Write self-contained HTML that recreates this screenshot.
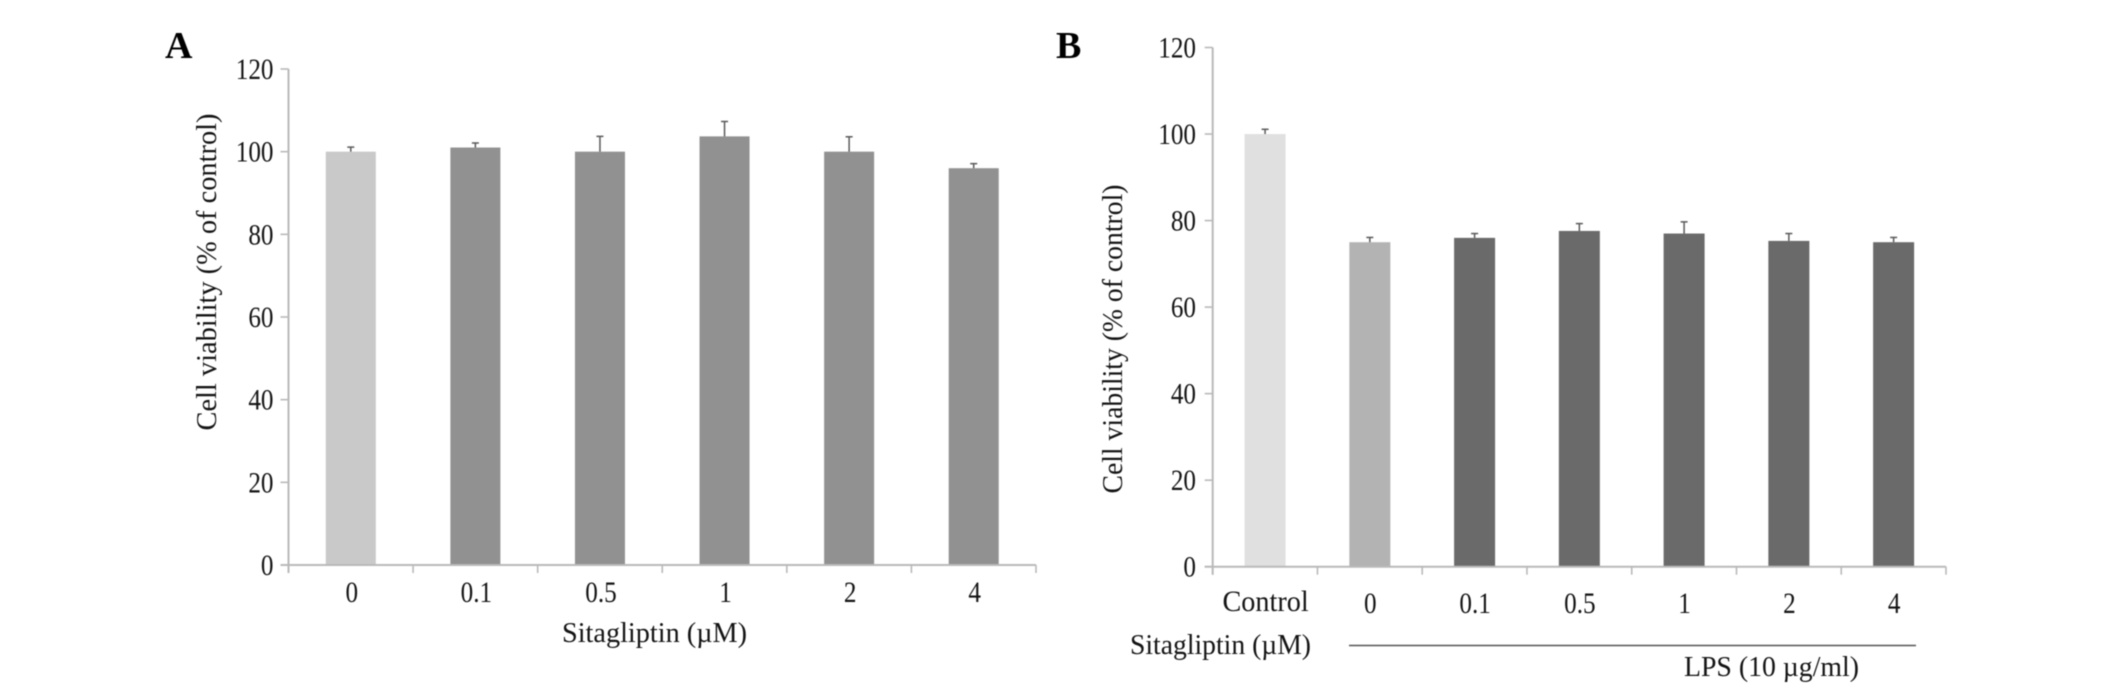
<!DOCTYPE html>
<html lang="en">
<head>
<meta charset="utf-8">
<title>Cell viability charts</title>
<style>
  html, body { margin: 0; padding: 0; background: #fff; }
  body { width: 2126px; height: 696px; overflow: hidden; }
  svg { display: block; filter: blur(0.45px); }
  text { font-family: "Liberation Serif", serif; fill: #141414; }
</style>
</head>
<body>
<svg id="figure" width="2126" height="696" viewBox="0 0 2126 696" xmlns="http://www.w3.org/2000/svg">
  <rect width="2126" height="696" fill="#ffffff"/>
  <g id="panel-a"></g>
  <g id="panel-b"></g>

  <text transform="translate(165,58)" font-size="38" font-weight="bold" style="fill:#000">A</text>
  <text transform="translate(1056,58)" font-size="38" font-weight="bold" style="fill:#000">B</text>

  <text transform="translate(216,272) rotate(-90)" text-anchor="middle" font-size="28" textLength="317" lengthAdjust="spacingAndGlyphs">Cell viability (% of control)</text>
  <text transform="translate(562,642)" font-size="29" textLength="185" lengthAdjust="spacingAndGlyphs">Sitagliptin (µM)</text>

  <text transform="translate(1122,339) rotate(-90)" text-anchor="middle" font-size="28" textLength="309" lengthAdjust="spacingAndGlyphs">Cell viability (% of control)</text>
  <text transform="translate(1130,654)" font-size="29" textLength="181" lengthAdjust="spacingAndGlyphs">Sitagliptin (µM)</text>
  <line x1="1349" y1="645.5" x2="1916" y2="645.5" stroke="#555555" stroke-width="1.6"/>
  <text transform="translate(1684,676)" font-size="29" textLength="175" lengthAdjust="spacingAndGlyphs">LPS (10 µg/ml)</text>
</svg>

<script>
const yTicks = [0, 20, 40, 60, 80, 100, 120];

const categoriesA = ['0', '0.1', '0.5', '1', '2', '4'];
const valuesA = [100, 101, 100, 103.7, 100, 96];
const errorTopsA = [101.1, 102.1, 103.7, 107.3, 103.6, 97.1];
const coloursA = ['#c9c9c9', '#919191', '#919191', '#919191', '#919191', '#919191'];

const categoriesB = ['Control', '0', '0.1', '0.5', '1', '2', '4'];
const valuesB = [100, 75, 76, 77.6, 77, 75.3, 75];
const errorTopsB = [101.1, 76.1, 77, 79.3, 79.7, 77, 76.1];
const coloursB = ['#e0e0e0', '#b3b3b3', '#6a6a6a', '#6a6a6a', '#6a6a6a', '#6a6a6a', '#6a6a6a'];

const SVG_NS = 'http://www.w3.org/2000/svg';
const AXIS_COLOUR = '#b9b9b9';
const ERROR_COLOUR = '#5a5a5a';

function makeLine(parent, x1, y1, x2, y2, colour, width) {
  const line = document.createElementNS(SVG_NS, 'line');
  line.setAttribute('x1', x1);
  line.setAttribute('y1', y1);
  line.setAttribute('x2', x2);
  line.setAttribute('y2', y2);
  line.setAttribute('stroke', colour);
  line.setAttribute('stroke-width', width);
  parent.appendChild(line);
  return line;
}

function makeLabel(parent, x, y, content, anchor, squeeze) {
  const label = document.createElementNS(SVG_NS, 'text');
  label.setAttribute('transform', 'translate(' + x + ',' + y + ') scale(' + squeeze + ',1)');
  label.setAttribute('text-anchor', anchor);
  label.setAttribute('font-size', '30');
  label.textContent = content;
  parent.appendChild(label);
  return label;
}

function drawPanel(panel) {
  const root = document.getElementById(panel.id);
  const plotWidth = panel.right - panel.left;
  const bandWidth = plotWidth / panel.categories.length;
  const xCentre = function (i) { return panel.left + bandWidth * (i + 0.5); };
  const yScale = function (v) { return panel.zeroY - (v / 120) * (panel.zeroY - panel.topY); };

  // Bars
  panel.values.forEach(function (value, i) {
    const bar = document.createElementNS(SVG_NS, 'rect');
    
    
    bar.setAttribute('x', xCentre(i) - panel.barWidth / 2);
    bar.setAttribute('y', yScale(value));
    bar.setAttribute('width', panel.barWidth);
    bar.setAttribute('height', panel.zeroY - yScale(value));
    bar.setAttribute('fill', panel.colours[i]);
    root.appendChild(bar);
  });

  // Error bars
  panel.errorTops.forEach(function (top, i) {
    const stem = makeLine(root, xCentre(i), yScale(panel.values[i]), xCentre(i), yScale(top), ERROR_COLOUR, 1.5);
    
    
    const cap = makeLine(root, xCentre(i) - 3.5, yScale(top), xCentre(i) + 3.5, yScale(top), ERROR_COLOUR, 1.5);
    
    
  });

  // Axes
  const yAxis = makeLine(root, panel.left, panel.topY, panel.left, panel.zeroY + 8, AXIS_COLOUR, 2);
  
  
  const xAxis = makeLine(root, panel.left - 8, panel.zeroY, panel.right, panel.zeroY, AXIS_COLOUR, 2);
  
  

  // Y ticks and labels
  yTicks.forEach(function (tick) {
    const mark = makeLine(root, panel.left - 8, yScale(tick), panel.left, yScale(tick), AXIS_COLOUR, 1.6);
    
    
    const label = makeLabel(root, panel.yLabelX, yScale(tick) + 10, String(tick), 'end', 0.84);
    
    
  });

  // X ticks
  for (let i = 0; i <= panel.categories.length; i++) {
    const x = panel.left + bandWidth * i;
    const mark = makeLine(root, x, panel.zeroY, x, panel.zeroY + 8, AXIS_COLOUR, 1.6);
    
    
  }

  // X labels (the word label sits wider and slightly higher than the numeric ones)
  panel.categories.forEach(function (category, i) {
    const isWord = category.length > 3;
    const label = makeLabel(root, xCentre(i) + panel.xLabelShift, panel.xLabelY - (isWord ? 2 : 0), category, 'middle', isWord ? 0.94 : 0.84);
    
    
  });
}

drawPanel({
  id: 'panel-a',
  categories: categoriesA,
  values: valuesA,
  errorTops: errorTopsA,
  colours: coloursA,
  left: 288.5,
  right: 1036,
  zeroY: 565,
  topY: 69,
  barWidth: 50,
  yLabelX: 273.5,
  xLabelY: 602,
  xLabelShift: 1
});

drawPanel({
  id: 'panel-b',
  categories: categoriesB,
  values: valuesB,
  errorTops: errorTopsB,
  colours: coloursB,
  left: 1212.7,
  right: 1946,
  zeroY: 566.7,
  topY: 47.5,
  barWidth: 41,
  yLabelX: 1196,
  xLabelY: 613,
  xLabelShift: 0.5
});
</script>
</body>
</html>
